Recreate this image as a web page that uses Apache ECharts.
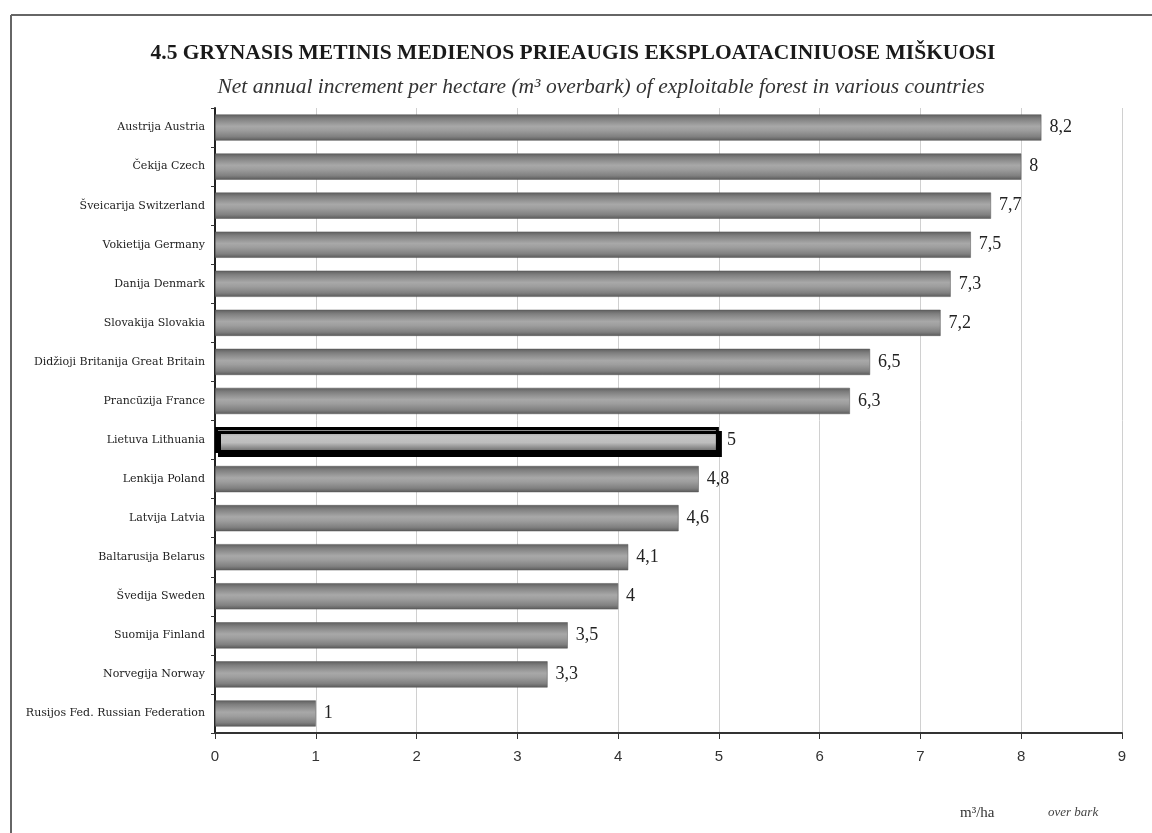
<!DOCTYPE html>
<html>
<head>
<meta charset="utf-8">
<script src="https://cdn.jsdelivr.net/npm/echarts@6/dist/echarts.min.js"></script>
<style>
  html, body { margin: 0; padding: 0; background: #fff; }
  #chart { width: 1152px; height: 833px; }
</style>
</head>
<body>
<div id="chart"></div>
<script>
// Countries, top to bottom
const countries = [
  'Austrija Austria',
  'Čekija Czech',
  'Šveicarija Switzerland',
  'Vokietija Germany',
  'Danija Denmark',
  'Slovakija Slovakia',
  'Didžioji Britanija Great Britain',
  'Prancūzija France',
  'Lietuva Lithuania',
  'Lenkija Poland',
  'Latvija Latvia',
  'Baltarusija Belarus',
  'Švedija Sweden',
  'Suomija Finland',
  'Norvegija Norway',
  'Rusijos Fed. Russian Federation'
];

// Net annual increment, m3/ha over bark
const increment = [8.2, 8, 7.7, 7.5, 7.3, 7.2, 6.5, 6.3, 5, 4.8, 4.6, 4.1, 4, 3.5, 3.3, 1];

// Highlighted country
const highlight = 'Lietuva Lithuania';

const xTicks = [0, 1, 2, 3, 4, 5, 6, 7, 8, 9];

const chart = echarts.init(document.getElementById('chart'), null, { renderer: 'canvas' });

const barFill = new echarts.graphic.LinearGradient(0, 0, 0, 1, [
  { offset: 0, color: '#5e5e5e' },
  { offset: 0.15, color: '#7e7e7e' },
  { offset: 0.45, color: '#a8a8a8' },
  { offset: 0.6, color: '#9e9e9e' },
  { offset: 0.85, color: '#808080' },
  { offset: 1, color: '#5a5a5a' }
]);
const hiFill = new echarts.graphic.LinearGradient(0, 0, 0, 1, [
  { offset: 0, color: '#6a6a6a' },
  { offset: 0.35, color: '#c4c4c4' },
  { offset: 0.6, color: '#bdbdbd' },
  { offset: 1, color: '#5a5a5a' }
]);

const fmt = v => String(v).replace('.', ',');

const seriesData = increment.map((v, i) => {
  const item = { value: v };
  if (countries[i] === highlight) {
    item.itemStyle = {
      color: hiFill,
      borderColor: '#000',
      borderWidth: 3,
      shadowColor: '#000',
      shadowOffsetX: 3,
      shadowOffsetY: 4
    };
  }
  return item;
});

chart.setOption({
  animation: false,
  backgroundColor: '#fff',
  title: [
    {
      text: '4.5 GRYNASIS METINIS MEDIENOS PRIEAUGIS EKSPLOATACINIUOSE MIŠKUOSI',
      left: 568, top: 37, textAlign: 'center',
      textStyle: { fontFamily: 'Liberation Serif', fontWeight: 'bold', fontSize: 21.5, color: '#1a1a1a' }
    },
    {
      text: 'Net annual increment per hectare (m³ overbark) of exploitable forest in various countries',
      left: 596, top: 71, textAlign: 'center',
      textStyle: { fontFamily: 'Liberation Serif', fontStyle: 'italic', fontWeight: 'normal', fontSize: 21.5, color: '#333' }
    }
  ],
  grid: { left: 215, right: 30, top: 108, height: 625, containLabel: false },
  xAxis: {
    type: 'value',
    min: 0, max: 9, interval: 1,
    axisLine: { show: true, lineStyle: { color: '#333', width: 2 } },
    axisTick: { show: true, length: 6, inside: false, lineStyle: { color: '#333' } },
    axisLabel: { margin: 16, fontFamily: 'Liberation Sans', fontSize: 15, color: '#333', formatter: v => xTicks.includes(v) ? String(v) : '' },
    splitLine: { show: true, lineStyle: { color: '#d0d0d0', width: 1 } }
  },
  yAxis: {
    type: 'category',
    data: countries,
    inverse: true,
    axisLine: { show: true, lineStyle: { color: '#222', width: 2 } },
    axisTick: { show: true, length: 4, lineStyle: { color: '#333' } },
    axisLabel: { margin: 10, fontFamily: 'DejaVu Serif', fontSize: 11, color: '#222' }
  },
  series: [{
    type: 'bar',
    data: seriesData,
    barCategoryGap: '33%',
    itemStyle: { color: barFill, borderColor: '#555', borderWidth: 0.5 },
    label: {
      show: true,
      position: 'right',
      distance: 8,
      fontFamily: 'Liberation Serif',
      fontSize: 18,
      color: '#222',
      formatter: p => fmt(p.value)
    }
  }],
  graphic: [
    // page frame
    { type: 'line', shape: { x1: 11, y1: 15, x2: 1152, y2: 15 }, style: { stroke: '#666', lineWidth: 2 } },
    { type: 'line', shape: { x1: 11, y1: 15, x2: 11, y2: 833 }, style: { stroke: '#666', lineWidth: 2 } },
    // unit
    { type: 'text', left: 960, top: 806, style: { text: 'm³/ha', font: '15px "Liberation Serif"', fill: '#333' } },
    { type: 'text', left: 1048, top: 806, style: { text: 'over bark', font: 'italic 13px "Liberation Serif"', fill: '#444' } }
  ]
});
</script>
</body>
</html>
